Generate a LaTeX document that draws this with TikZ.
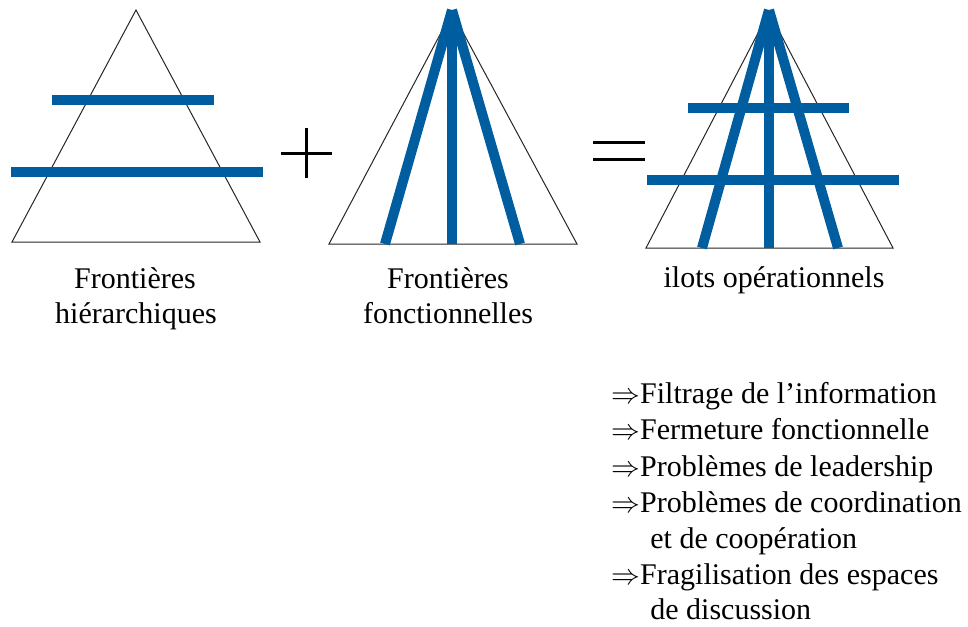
\documentclass[tikz,border=0pt]{standalone}
\usepackage{fontspec}
\setmainfont{Liberation Serif}
\usetikzlibrary{positioning}
\definecolor{bleu}{RGB}{0,93,160}

\begin{document}
\begin{tikzpicture}[x=0.5pt,y=-0.5pt,
    pyramide/.style={draw=black!85, line width=0.5pt},
    frontiere/.style={draw=bleu, line width=5pt},
    signe/.style={draw=black, line width=1.5pt},
    legende/.style={font=\fontsize{15}{18}\selectfont, inner sep=0pt, anchor=base},
    item/.style={legende, anchor=base west}]
    \useasboundingbox (0,0) rectangle (968,626);

    % Pyramide hierarchique
    \coordinate (sommetH) at (136,10);
    \coordinate (baseHg) at (12,242);
    \coordinate (baseHd) at (260,242);
    \draw[pyramide] (sommetH) -- (baseHg) -- (baseHd) -- cycle;
    \draw[frontiere] (52,100) -- (214,100);
    \draw[frontiere] (11,172) -- (263,172);
    \node[legende] (hierA) at (135,288) {Frontières};
    \node[legende] (hierB) at (136,323) {hiérarchiques};

    % Plus
    \draw[signe] (281,153) -- (332,153);
    \draw[signe] (306,128) -- (306,178);

    % Pyramide fonctionnelle
    \coordinate (sommetF) at (452,12);
    \coordinate (baseFg) at (329,244);
    \coordinate (baseFd) at (577,244);
    \draw[pyramide] (sommetF) -- (baseFg) -- (baseFd) -- cycle;
    \draw[frontiere] (452,10) -- (385,244);
    \draw[frontiere] (452,10) -- (452,244);
    \draw[frontiere] (452,10) -- (520,244);
    \node[legende] (foncA) at (448,288) {Frontières};
    \node[legende] (foncB) at (448,323) {fonctionnelles};

    % Egal
    \draw[signe] (593,142) -- (645,142);
    \draw[signe] (593,159) -- (645,159);

    % Ilots operationnels
    \coordinate (sommetI) at (769,12);
    \coordinate (baseIg) at (646,248);
    \coordinate (baseId) at (893,248);
    \draw[pyramide] (sommetI) -- (baseIg) -- (baseId) -- cycle;
    \draw[frontiere] (769,10) -- (702,248);
    \draw[frontiere] (769,10) -- (769,248);
    \draw[frontiere] (769,10) -- (838,248);
    \draw[frontiere] (688,108) -- (849,108);
    \draw[frontiere] (647,180) -- (899,180);
    \node[legende] (ilots) at (774,287) {ilots opérationnels};

    % Consequences
    \node[item] (item1) at (611,403) {$\Rightarrow$Filtrage de l’information};
    \node[item] (item2) at (611,439) {$\Rightarrow$Fermeture fonctionnelle};
    \node[item] (item3) at (611,476) {$\Rightarrow$Problèmes de leadership};
    \node[item] (item4) at (611,512) {$\Rightarrow$Problèmes de coordination};
    \node[item] (item5) at (650,548) {et de coopération};
    \node[item] (item6) at (611,584) {$\Rightarrow$Fragilisation des espaces};
    \node[item] (item7) at (650,619) {de discussion};
\end{tikzpicture}
\end{document}
